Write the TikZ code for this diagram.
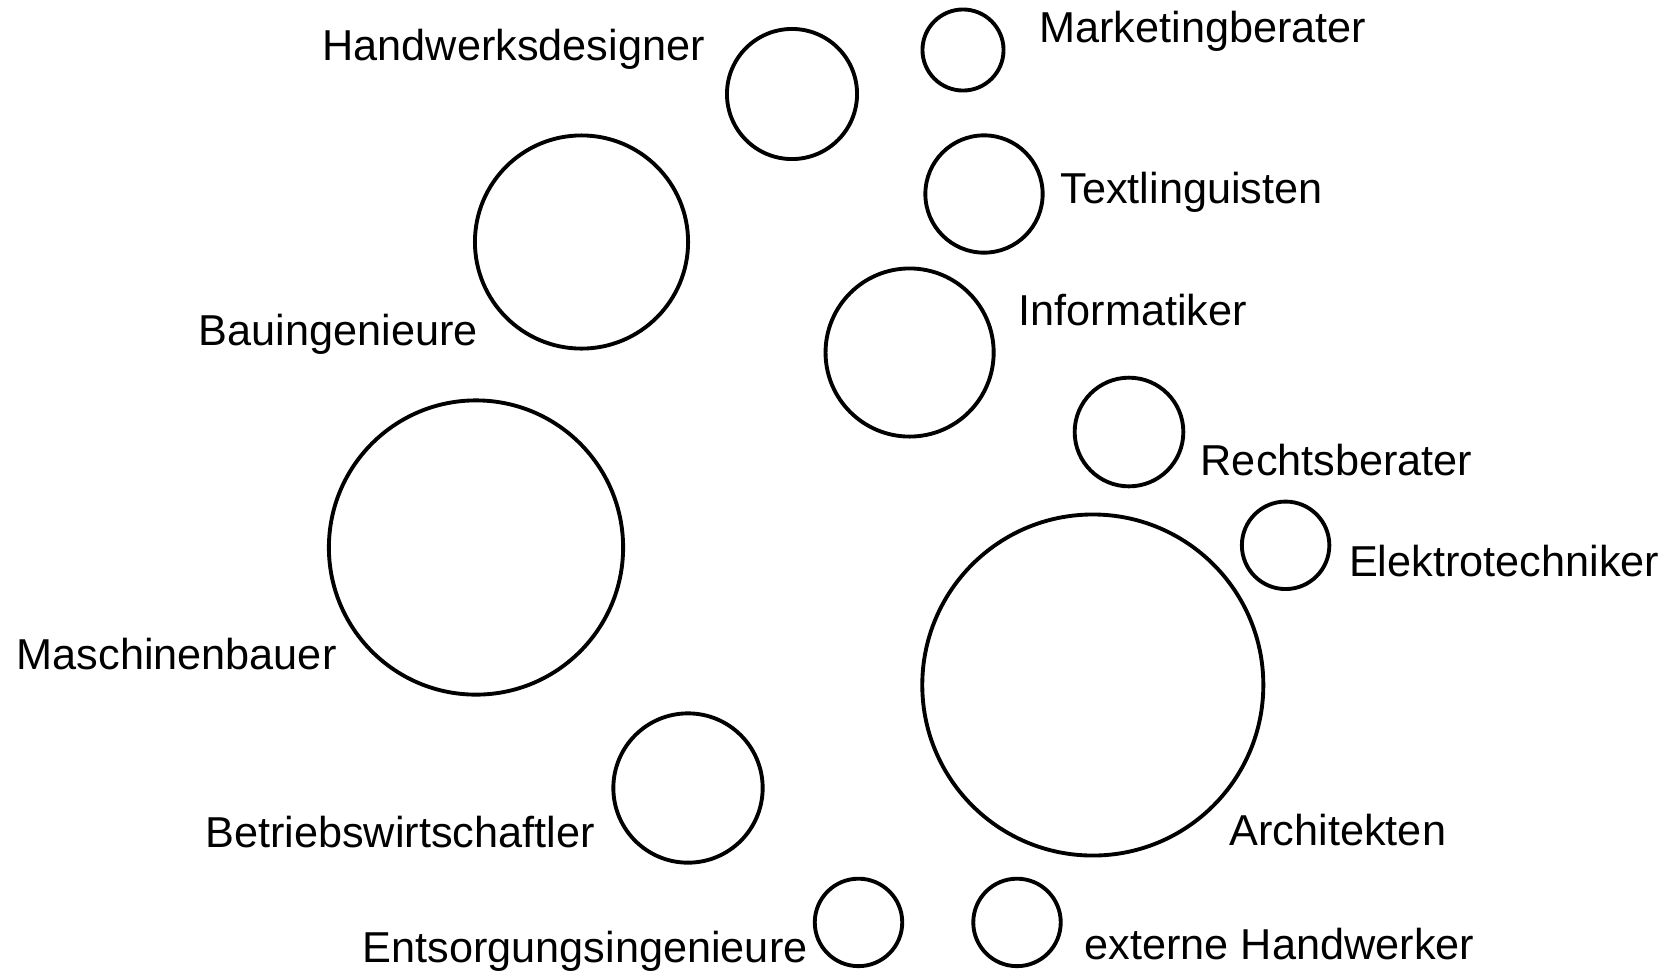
\documentclass[tikz,border=0pt]{standalone}
\usepackage{fontspec}
\setmainfont{Liberation Sans}
\usetikzlibrary{positioning}
\tikzset{
  team/.style={
    circle,
    draw=black, line width=1.1pt,
    inner sep=0pt,
    minimum size=#1*0.02cm},
  label/.style={
    anchor=base west,
    inner sep=0pt,
    font=\fontsize{12.3}{14}\selectfont},
}
\begin{document}
\begin{tikzpicture}[x=0.01cm,y=-0.01cm]
\useasboundingbox (0,0) rectangle (1670,975);

% circles
\node[team=65]  (handwerk)  at (792,94)   {};
\node[team=40.5](marketing) at (963,50)   {};
\node[team=58.6](textling)  at (984,194)  {};
\node[team=106.5](bau)      at (581.5,242) {};
\node[team=84]  (info)      at (909.6,352.5) {};
\node[team=54.3](recht)     at (1129,432) {};
\node[team=43.7](elektro)   at (1285.6,545.3) {};
\node[team=147] (maschine)  at (476,547.5) {};
\node[team=170.4](archi)    at (1092.8,685) {};
\node[team=74.6](bwl)       at (688,788)  {};
\node[team=43.7](entsorg)   at (858.5,922.4) {};
\node[team=43.7](extern)    at (1017,922.4) {};

% labels
\node[label] (handwerkL)  at (321.7,60.7)  {Handwerksdesigner};
\node[label] (marketingL) at (1038.5,42.6) {Marketingberater};
\node[label] (textlingL)  at (1059.8,203.4) {Textlinguisten};
\node[label] (bauL)       at (198,345)     {Bauingenieure};
\node[label] (infoL)      at (1018,325)    {Informatiker};
\node[label] (rechtL)     at (1200,475)    {Rechtsberater};
\node[label] (elektroL)   at (1348.4,576.2) {Elektrotechniker};
\node[label] (maschineL)  at (16,669)      {Maschinenbauer};
\node[label] (archiL)     at (1229,845.7)  {Architekten};
\node[label] (bwlL)       at (204.5,847.8) {Betriebswirtschaftler};
\node[label] (entsorgL)   at (362,962.9)   {Entsorgungsingenieure};
\node[label] (externL)    at (1084,959.7)  {externe Handwerker};

\end{tikzpicture}
\end{document}
